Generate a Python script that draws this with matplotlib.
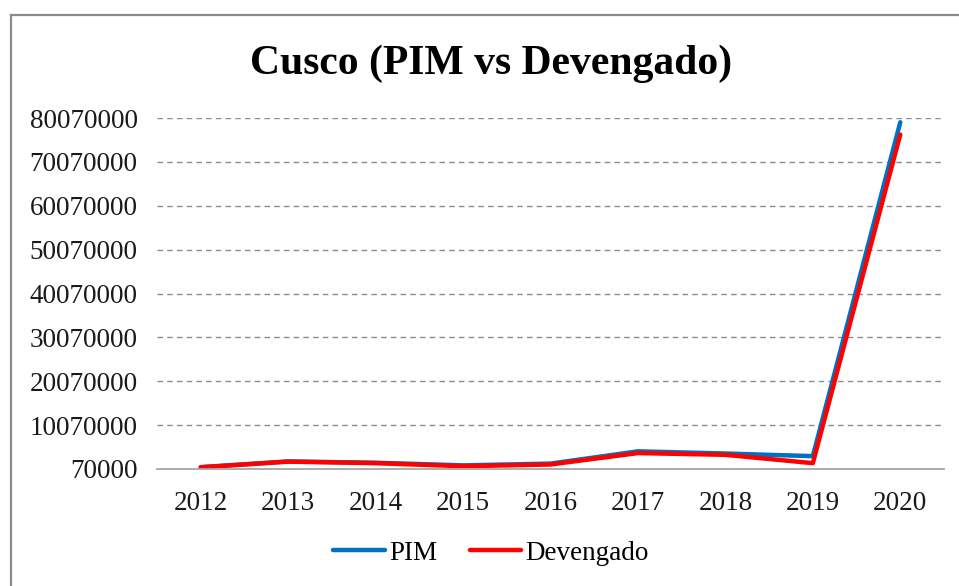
import matplotlib.pyplot as plt
from matplotlib.lines import Line2D

years = ['2012', '2013', '2014', '2015', '2016', '2017', '2018', '2019', '2020']
pim = [500000, 1800000, 1500000, 900000, 1300000, 4100000, 3600000, 3000000, 79100000]
devengado = [450000, 1750000, 1400000, 700000, 1100000, 3700000, 3300000, 1400000, 76300000]
yticks = [70000 + 10000000 * i for i in range(9)]

plt.rcParams['font.family'] = ['Liberation Serif', 'DejaVu Serif']

fig = plt.figure(figsize=(9.59, 5.86), dpi=100)
ax = fig.add_axes([157 / 959, 117 / 586, 787 / 959, 351 / 586])

# outer chart frame (only the top/left edges are visible in the crop)
W, H = 959, 586
fig.add_artist(Line2D([11 / W, 11 / W], [0, 1 - 15 / H], color='#8c8c8c', lw=1.6))
fig.add_artist(Line2D([11 / W, 1], [1 - 15 / H, 1 - 15 / H], color='#8c8c8c', lw=1.6))

x = range(len(years))
ax.plot(x, pim, color='#0070C0', lw=3.2, label='PIM', solid_capstyle='round')
ax.plot(x, devengado, color='#FF0000', lw=3.2, label='Devengado', solid_capstyle='round')

ax.set_xlim(-0.5, len(years) - 0.5)
ax.set_ylim(yticks[0], yticks[-1])
ax.set_yticks(yticks)
ax.set_yticklabels([str(v) for v in yticks])
ax.set_xticks(list(x))
ax.set_xticklabels(years)
ax.tick_params(length=0, labelsize=19.5, colors='#1a1a1a')
ax.tick_params(axis='y', pad=14)
ax.tick_params(axis='x', pad=16)

for v in yticks[1:]:
    ax.axhline(v, color='#8c8c8c', lw=1, ls=(0, (4, 3)), zorder=0)

for s in ['top', 'right', 'left']:
    ax.spines[s].set_visible(False)
ax.spines['bottom'].set_color('#a6a6a6')
ax.spines['bottom'].set_linewidth(1.3)

fig.text(491 / W, 1 - 64 / H, 'Cusco (PIM vs Devengado)', ha='center', va='center',
         fontsize=30, fontweight='bold')

fig.legend(loc='center', bbox_to_anchor=(491 / W, 1 - 553 / H), ncol=2, frameon=False,
           fontsize=19.5, handlelength=1.9, handletextpad=0.15, columnspacing=1.2)

fig.savefig('out.png', dpi=100)
